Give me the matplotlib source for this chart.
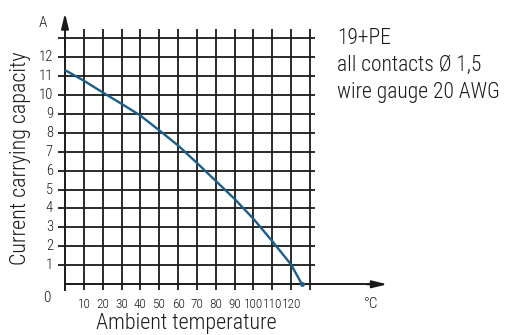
import matplotlib
matplotlib.use('Agg')
import matplotlib.pyplot as plt
import numpy as np

# derating curve
temp = [0.5, 10, 20, 30, 40, 50, 60, 70, 80, 90, 100, 110, 120, 125.7]
current = [11.27, 10.74, 10.12, 9.52, 8.9, 8.12, 7.32, 6.4, 5.45, 4.5, 3.45, 2.27, 1.03, 0.0]

x_ticks = [10, 20, 30, 40, 50, 60, 70, 80, 90, 100, 110, 120]
y_ticks = [1, 2, 3, 4, 5, 6, 7, 8, 9, 10, 11, 12]
note_lines = ['19+PE', 'all contacts Ø 1,5', 'wire gauge 20 AWG']

plt.rcParams['font.family'] = ['Roboto Condensed', 'DejaVu Sans']
plt.rcParams['font.weight'] = 'light'
ink = '#1a1a1a'

fig = plt.figure(figsize=(5.06, 3.35), dpi=100)
ax = fig.add_axes([0, 0, 1, 1])
ax.set_xlim(-34.48, 233.95)
ax.set_ylim(-2.674, 14.995)
ax.axis('off')

# grid
for xv in x_ticks + [130]:
    ax.plot([xv, xv], [-0.32, 13.45], color=ink, lw=1.3, solid_capstyle='butt')
for yv in y_ticks + [13]:
    ax.plot([-3.7, 132.8], [yv, yv], color=ink, lw=1.3, solid_capstyle='butt')

# axes with arrows
ax.plot([0, 0], [-0.32, 13.0], color=ink, lw=1.4)
ax.plot([0, 162], [0, 0], color=ink, lw=1.4)
ax.annotate('', xy=(0, 14.3), xytext=(0, 12.5),
            arrowprops=dict(arrowstyle='-|>,head_length=0.9,head_width=0.22',
                            color=ink, lw=1.4, shrinkA=0, shrinkB=0))
ax.annotate('', xy=(171, 0), xytext=(160, 0),
            arrowprops=dict(arrowstyle='-|>,head_length=0.9,head_width=0.22',
                            color=ink, lw=1.4, shrinkA=0, shrinkB=0))

# curve
ax.plot(temp, current, color='#1b5e8a', lw=1.7, zorder=3, solid_joinstyle='round')
ax.plot(temp[-1], current[-1], 'o', color='#1b5e8a', ms=2.5, zorder=3)

# tick labels
for yv in y_ticks:
    ax.text(-6.4, yv, str(yv), ha='right', va='center', fontsize=10.5, color=ink)
for xv in x_ticks:
    ax.text(xv, -1.06, str(xv), ha='center', va='center', fontsize=9.5, color=ink)
ax.text(-9.6, -0.74, '0', ha='center', va='center', fontsize=11, color=ink)
ax.text(-11.7, 13.8, 'A', ha='center', va='center', fontsize=11, color=ink)
ax.text(162.5, -1.06, '°C', ha='center', va='center', fontsize=11, color=ink)

ax.text(64.5, -2.06, 'Ambient temperature', ha='center', va='center', fontsize=15.8, color=ink)
ax.text(-23.4, 6.67, 'Current carrying capacity', ha='center', va='center',
        rotation=90, fontsize=15.8, color=ink)

for i, line in enumerate(note_lines):
    ax.text(144.4, 12.65 - i * 1.40, line, ha='left', va='baseline', fontsize=15.5, color=ink)

fig.savefig('out.png', dpi=100)
